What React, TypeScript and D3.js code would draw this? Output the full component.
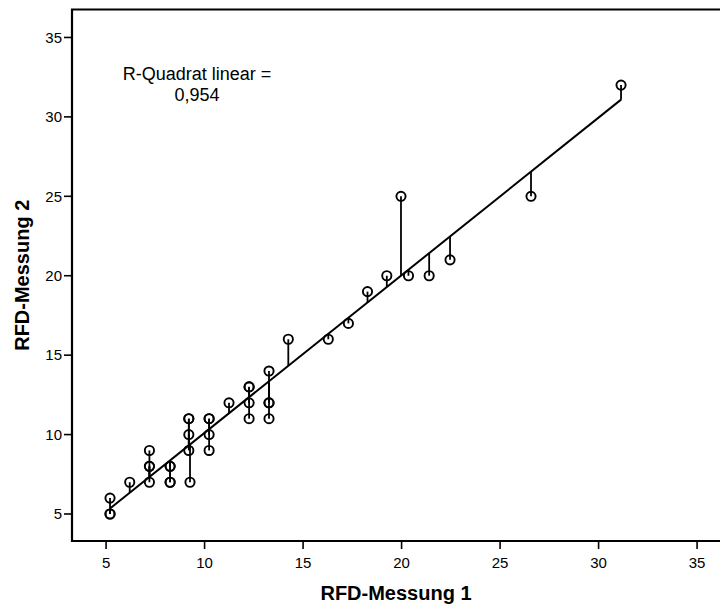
import React, { useEffect, useRef } from 'react'
import * as d3 from 'd3'

// RFD-Messung 1 / RFD-Messung 2 pairs (duplicates kept, they plot on top of each other)
const messung1 = [
  5.2, 5.2, 5.2, 6.2, 7.2, 7.2, 7.2, 7.2, 8.25, 8.25, 8.25, 8.25, 9.2, 9.2, 9.2, 9.2, 9.26,
  10.23, 10.23, 10.23, 10.23, 11.24, 12.26, 12.26, 12.26, 12.26, 13.27, 13.27, 13.27, 13.27,
  14.25, 16.28, 17.3, 18.27, 19.25, 19.97, 20.35, 21.4, 22.46, 26.57, 31.14,
]
const messung2 = [
  5, 5, 6, 7, 9, 8, 8, 7, 8, 8, 7, 7, 11, 11, 10, 9, 7,
  11, 11, 10, 9, 12, 13, 13, 12, 11, 14, 12, 12, 11,
  16, 16, 17, 19, 20, 25, 20, 20, 21, 25, 32,
]
const xTicks = [5, 10, 15, 20, 25, 30, 35]
const yTicks = [5, 10, 15, 20, 25, 30, 35]
const rSquareLabel = ['R-Quadrat linear =', '0,954']

const FONT = '"Liberation Sans", Arial, sans-serif'

const App = () => {
  const svgRef = useRef(null)

  useEffect(() => {
    const width = 720
    const height = 605
    const svg = d3.select(svgRef.current)
    svg.selectAll('*').remove()
    svg.attr('width', width).attr('height', height).style('background', '#fff')

    const left = 72
    const top = 9.5
    const bottom = 541

    const x = d3.scaleLinear().domain([3.27, 36.76]).range([left, left + 33.49 * 19.7])
    const y = d3.scaleLinear().domain([3.3, 36.76]).range([bottom, top])

    const data = messung1.map((v, i) => ({ x: v, y: messung2[i] }))

    // least squares fit
    const mx = d3.mean(data, (d) => d.x)
    const my = d3.mean(data, (d) => d.y)
    const sxy = d3.sum(data, (d) => (d.x - mx) * (d.y - my))
    const sxx = d3.sum(data, (d) => (d.x - mx) ** 2)
    const slope = sxy / sxx
    const icpt = my - slope * mx
    const fit = (v) => icpt + slope * v
    const [xmin, xmax] = d3.extent(data, (d) => d.x)

    // frame
    svg
      .append('path')
      .attr('d', `M${x.range()[1]},${top} H${left} V${bottom} H${x.range()[1]}`)
      .attr('fill', 'none')
      .attr('stroke', '#000')
      .attr('stroke-width', 2.2)

    // y axis ticks
    const yg = svg.append('g')
    yTicks.forEach((t) => {
      yg.append('line')
        .attr('x1', left - 8)
        .attr('x2', left)
        .attr('y1', y(t))
        .attr('y2', y(t))
        .attr('stroke', '#000')
        .attr('stroke-width', 1.6)
      yg.append('text')
        .attr('x', left - 10)
        .attr('y', y(t))
        .attr('dy', '0.35em')
        .attr('text-anchor', 'end')
        .attr('font-family', FONT)
        .attr('font-size', 15)
        .text(t)
    })

    // x axis ticks
    const xg = svg.append('g')
    xTicks.forEach((t) => {
      xg.append('line')
        .attr('x1', x(t))
        .attr('x2', x(t))
        .attr('y1', bottom)
        .attr('y2', bottom + 8)
        .attr('stroke', '#000')
        .attr('stroke-width', 1.6)
      xg.append('text')
        .attr('x', x(t))
        .attr('y', bottom + 27)
        .attr('text-anchor', 'middle')
        .attr('font-family', FONT)
        .attr('font-size', 15)
        .text(t)
    })

    // axis titles
    svg
      .append('text')
      .attr('x', (left + 720) / 2)
      .attr('y', 600)
      .attr('text-anchor', 'middle')
      .attr('font-family', FONT)
      .attr('font-weight', 'bold')
      .attr('font-size', 20)
      .text('RFD-Messung 1')
    svg
      .append('text')
      .attr('transform', `translate(29, ${(top + bottom) / 2}) rotate(-90)`)
      .attr('text-anchor', 'middle')
      .attr('font-family', FONT)
      .attr('font-weight', 'bold')
      .attr('font-size', 20)
      .text('RFD-Messung 2')

    // R² annotation
    svg
      .append('text')
      .attr('font-family', FONT)
      .attr('font-size', 18)
      .attr('text-anchor', 'middle')
      .selectAll('tspan')
      .data(rSquareLabel)
      .enter()
      .append('tspan')
      .attr('x', 197)
      .attr('y', (d, i) => 80 + i * 21)
      .text((d) => d)

    // fit line
    svg
      .append('line')
      .attr('x1', x(xmin))
      .attr('y1', y(fit(xmin)))
      .attr('x2', x(xmax))
      .attr('y2', y(fit(xmax)))
      .attr('stroke', '#000')
      .attr('stroke-width', 2)

    // residual drop lines
    svg
      .append('g')
      .selectAll('line')
      .data(data)
      .enter()
      .append('line')
      .attr('x1', (d) => x(d.x))
      .attr('x2', (d) => x(d.x))
      .attr('y1', (d) => y(d.y))
      .attr('y2', (d) => y(fit(d.x)))
      .attr('stroke', '#000')
      .attr('stroke-width', 1.8)

    svg
      .append('g')
      .selectAll('circle')
      .data(data)
      .enter()
      .append('circle')
      .attr('cx', (d) => x(d.x))
      .attr('cy', (d) => y(d.y))
      .attr('r', 4.6)
      .attr('fill', 'none')
      .attr('stroke', '#000')
      .attr('stroke-width', 1.9)
  }, [])

  return <svg ref={svgRef} style={{ position: 'absolute', left: 0, top: 0 }}></svg>
}

export default App
